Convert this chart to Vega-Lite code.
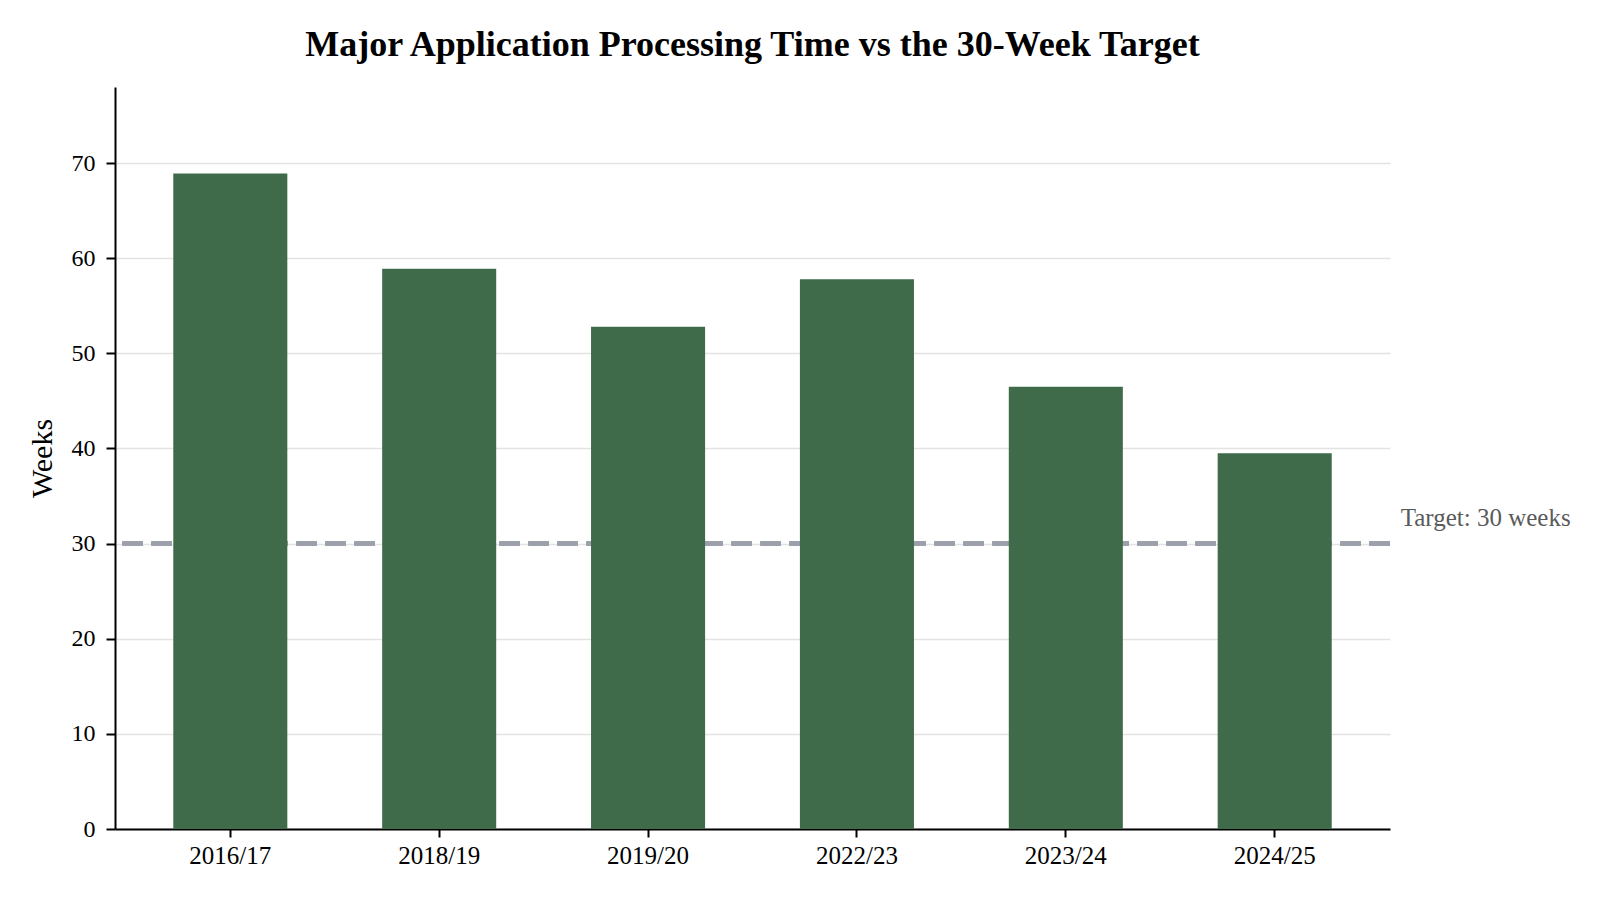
{
  "$schema": "https://vega.github.io/schema/vega-lite/v6.json",
  "autosize": {"type": "none"},
  "padding": {"left": 115, "top": 87, "right": 210, "bottom": 71},
  "width": 1275,
  "height": 742,
  "background": "white",
  "config": {
    "font": "Liberation Serif",
    "view": {"stroke": null},
    "axis": {"labelFont": "Liberation Serif", "titleFont": "Liberation Serif"}
  },
  "title": {
    "text": "Major Application Processing Time vs the 30-Week Target",
    "font": "Liberation Serif",
    "fontSize": 36,
    "fontWeight": "bold",
    "color": "black",
    "anchor": "middle",
    "offset": 23
  },
  "data": {
    "values": [
      {"year": "2016/17", "weeks": 68.9},
      {"year": "2018/19", "weeks": 58.9},
      {"year": "2019/20", "weeks": 52.8},
      {"year": "2022/23", "weeks": 57.8},
      {"year": "2023/24", "weeks": 46.5},
      {"year": "2024/25", "weeks": 39.5}
    ]
  },
  "encoding": {
    "x": {
      "field": "year",
      "type": "nominal",
      "sort": null,
      "scale": {"paddingInner": 0.454, "paddingOuter": 0.279},
      "axis": {
        "title": null,
        "labelAngle": 0,
        "labelFontSize": 25,
        "labelColor": "black",
        "labelPadding": 6,
        "domainColor": "black",
        "domainWidth": 2,
        "tickColor": "black",
        "tickWidth": 2,
        "tickSize": 8
      }
    }
  },
  "layer": [
    {
      "mark": {"type": "rule", "stroke": "#9ca0aa", "strokeWidth": 4, "strokeDash": [20.5, 8.5]},
      "encoding": {"x": null, "y": {"datum": 30, "type": "quantitative"}}
    },
    {
      "mark": {"type": "bar", "color": "#3f6b4b"},
      "encoding": {
        "y": {
          "field": "weeks",
          "type": "quantitative",
          "scale": {"domain": [0, 78], "nice": false},
          "axis": {
            "title": "Weeks",
            "titleFontSize": 30,
            "titleFontWeight": "normal",
            "titleColor": "black",
            "titlePadding": 14,
            "values": [0, 10, 20, 30, 40, 50, 60, 70],
            "labelFontSize": 24,
            "labelColor": "black",
            "labelPadding": 11,
            "domainColor": "black",
            "domainWidth": 2,
            "tickColor": "black",
            "tickWidth": 2,
            "tickSize": 9,
            "grid": true,
            "gridColor": "#e3e3e3",
            "gridWidth": 1.6
          }
        }
      }
    },
    {
      "data": {"values": [{"year": "2024/25", "target": 30, "label": "Target: 30 weeks"}]},
      "mark": {"type": "text", "align": "left", "baseline": "alphabetic", "dx": 126, "dy": -18, "fontSize": 25, "color": "#5a5a5a"},
      "encoding": {
        "x": {"field": "year", "type": "nominal"},
        "y": {"field": "target", "type": "quantitative"},
        "text": {"field": "label"}
      }
    }
  ]
}
